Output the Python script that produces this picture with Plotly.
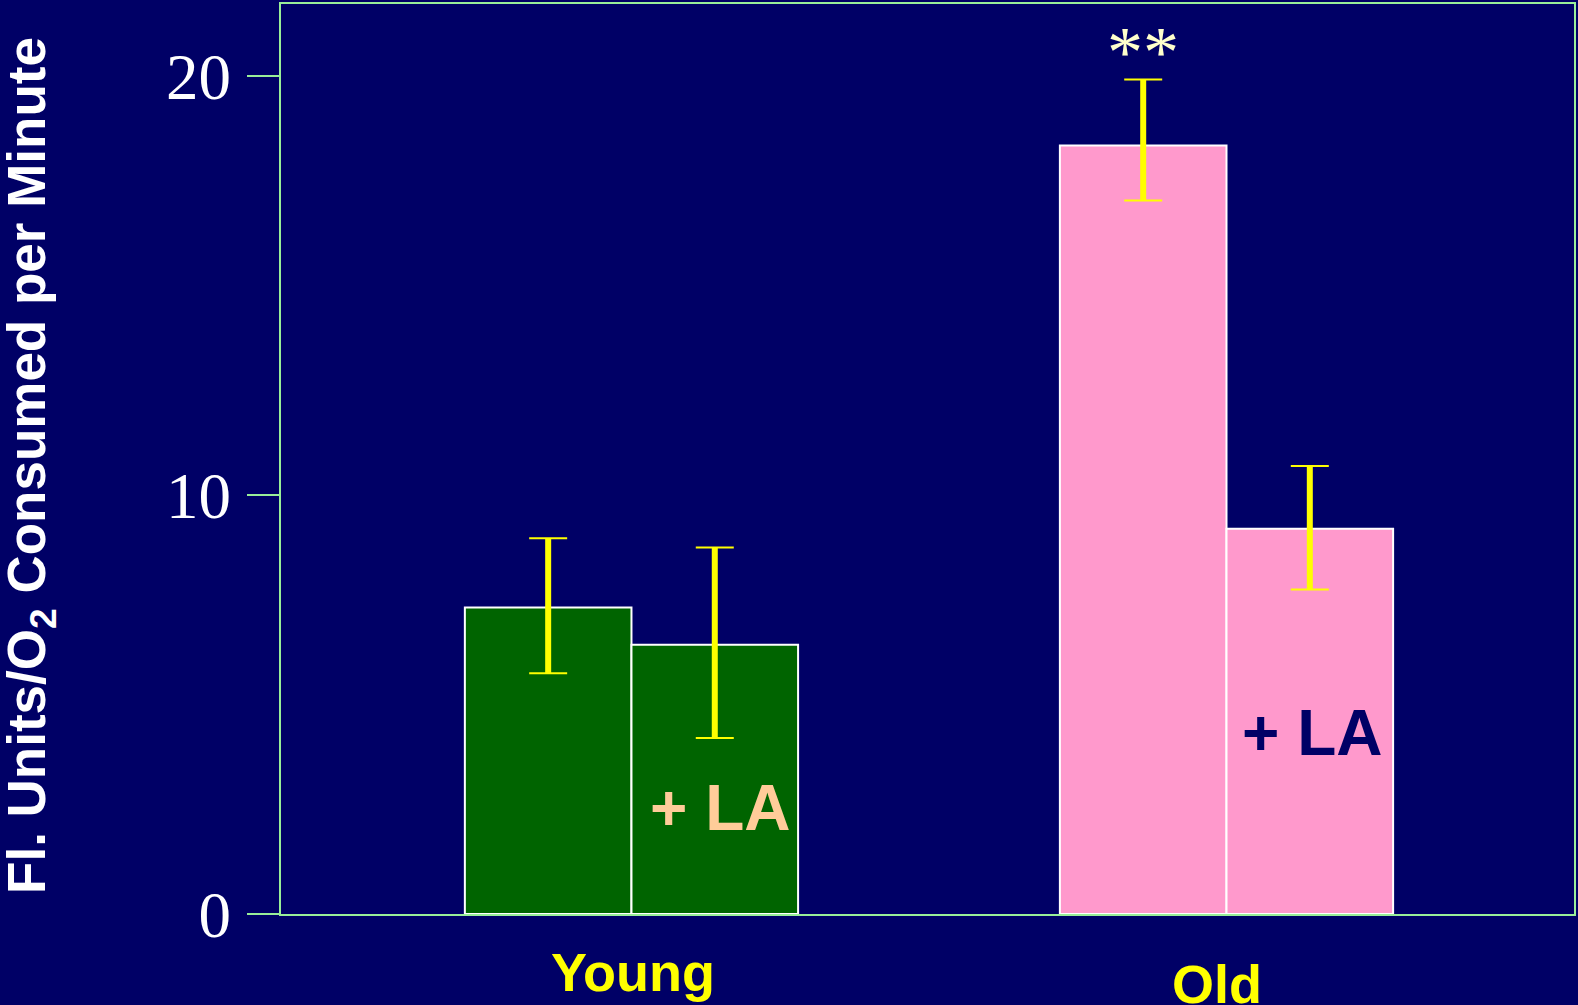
import plotly.graph_objects as go

# ---- data ----
groups = ["Young", "Old"]
control = [7.32, 18.35]
control_err_plus = [1.65, 1.58]
control_err_minus = [1.57, 1.31]
treated = [6.43, 9.20]
treated_err_plus = [2.32, 1.50]
treated_err_minus = [2.23, 1.45]
treated_label = "+ LA"
y_ticks = [0, 10, 20]
y_title = "Fl. Units/O<sub>2</sub> Consumed per Minute"
significance = ["", "**"]

BG = "#000066"
AXIS = "#99EE99"
GREEN = "#006400"
PINK = "#FF99CC"
YELLOW = "#FFFF00"

W = 0.28
xi = list(range(len(groups)))
x_ctrl = [i - W / 2 for i in xi]
x_trt = [i + W / 2 for i in xi]
bar_colors = [GREEN, PINK]

fig = go.Figure()
fig.add_trace(go.Bar(x=xi, y=control, width=W, offset=-W,
                     marker=dict(color=bar_colors, line=dict(color="white", width=2)),
                     showlegend=False, hoverinfo="y"))
fig.add_trace(go.Bar(x=xi, y=treated, width=W, offset=0,
                     marker=dict(color=bar_colors, line=dict(color="white", width=2)),
                     showlegend=False, hoverinfo="y"))

# error bars: thick stems + thin caps
for xs, ys, ep, em in [(x_ctrl, control, control_err_plus, control_err_minus),
                       (x_trt, treated, treated_err_plus, treated_err_minus)]:
    fig.add_trace(go.Scatter(x=xs, y=ys, mode="markers", marker=dict(opacity=0, size=1),
                             error_y=dict(type="data", symmetric=False, array=ep, arrayminus=em,
                                          color=YELLOW, thickness=6, width=0),
                             showlegend=False, hoverinfo="skip"))
    fig.add_trace(go.Scatter(x=xs, y=ys, mode="markers", marker=dict(opacity=0, size=1),
                             error_y=dict(type="data", symmetric=False, array=ep, arrayminus=em,
                                          color=YELLOW, thickness=2, width=19),
                             showlegend=False, hoverinfo="skip"))

annotations = []
# group labels
label_pos = [(0, 2, -0.0638), (1, -10, -0.0765)]
for (i, shift, yp), g in zip(label_pos, groups):
    annotations.append(dict(x=i, y=yp, xref="x", yref="paper", text="<b>" + g + "</b>", showarrow=False,
                            xshift=shift, xanchor="center", yanchor="middle",
                            font=dict(family="Liberation Sans, Arial", size=54, color=YELLOW)))
# "+ LA" labels
la_pos = [(x_trt[0] + 0.008, 2.52, "#FFCC99"), (x_trt[1] + 0.004, 4.33, BG)]
for xp, yp, col in la_pos:
    annotations.append(dict(x=xp, y=yp, xref="x", yref="y", text="<b>" + treated_label + "</b>",
                            showarrow=False, xanchor="center", yanchor="middle",
                            font=dict(family="Liberation Sans, Arial", size=64, color=col)))
# significance
for i, s in enumerate(significance):
    if s:
        annotations.append(dict(x=x_ctrl[i], y=control[i] + control_err_plus[i], xref="x", yref="y",
                                text=s, showarrow=False, xanchor="center", yanchor="bottom",
                                yshift=-15,
                                font=dict(family="Liberation Serif, Times New Roman", size=72,
                                          color="#FFFFCC")))
# y title
annotations.append(dict(x=-0.1938, y=0.4928, xref="paper", yref="paper", text="<b>" + y_title + "</b>",
                        textangle=-90, showarrow=False, xanchor="center", yanchor="middle",
                        font=dict(family="Liberation Sans, Arial", size=53, color="white")))

fig.update_layout(
    width=1578, height=1005,
    margin=dict(l=281, r=2, t=2, b=91),
    paper_bgcolor=BG, plot_bgcolor=BG,
    barmode="overlay",
    annotations=annotations,
    xaxis=dict(range=[-0.589, 1.584], showgrid=False, zeroline=False, showticklabels=False,
               ticks="", showline=True, linecolor=AXIS, linewidth=2, mirror=True),
    yaxis=dict(range=[0, 21.73], tickvals=y_ticks, showgrid=False, zeroline=False,
               ticks="outside", ticklen=32, tickwidth=2, tickcolor=AXIS,
               showline=True, linecolor=AXIS, linewidth=2, mirror=True,
               tickfont=dict(family="Liberation Serif, Times New Roman", size=65, color="white"),
               ticklabelstandoff=3),
)

fig.write_html("out.html", config={"displayModeBar": False},
               post_script="document.body.style.margin='0';document.body.style.padding='0';"
                           "document.body.style.background='#000066';")
